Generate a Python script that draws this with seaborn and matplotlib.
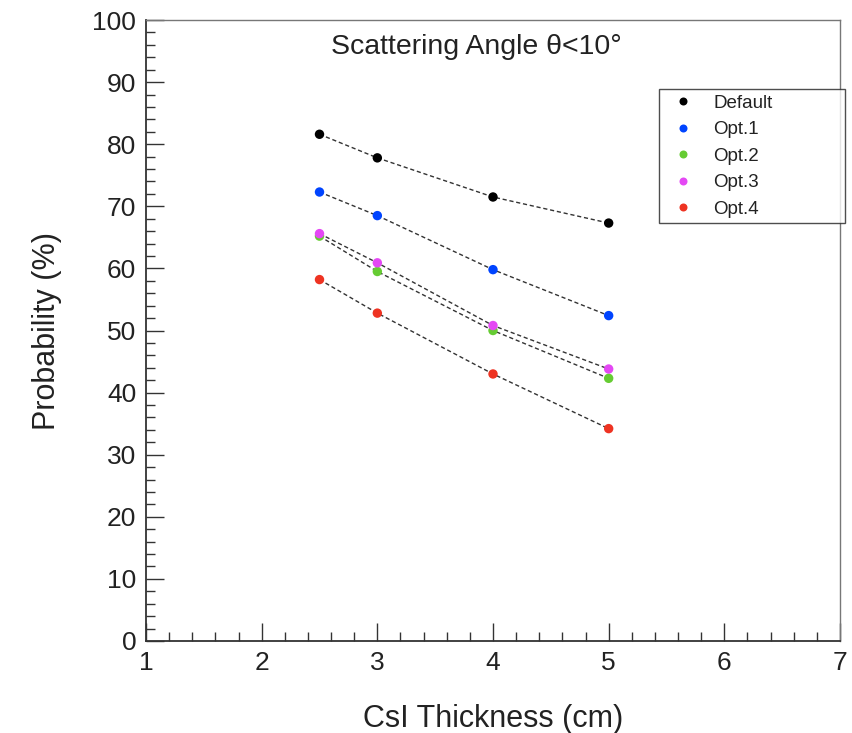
import matplotlib
matplotlib.use("Agg")
import matplotlib.pyplot as plt
from matplotlib.ticker import MultipleLocator
import seaborn as sns
import pandas as pd

# ---- data ----
thickness = [2.5, 3, 4, 5]
default = [81.6, 77.8, 71.5, 67.3]
opt1 = [72.3, 68.5, 59.8, 52.4]
opt2 = [65.2, 59.5, 50.0, 42.3]
opt3 = [65.6, 60.9, 50.8, 43.8]
opt4 = [58.2, 52.8, 43.0, 34.2]
series_names = ["Default", "Opt.1", "Opt.2", "Opt.3", "Opt.4"]
series_colors = ["#000000", "#0044ff", "#66cc33", "#e448f4", "#ee3322"]

rows = []
for name, vals in zip(series_names, [default, opt1, opt2, opt3, opt4]):
    for t, v in zip(thickness, vals):
        rows.append({"thickness": t, "prob": v, "option": name})
df = pd.DataFrame(rows)

sns.set_theme(style="white")
plt.rcParams["font.family"] = ["Liberation Sans", "DejaVu Sans"]

fig = plt.figure(figsize=(8.53, 7.33), dpi=100)
ax = fig.add_axes([146 / 853, 1 - 641 / 733, 694 / 853, 621 / 733])

sns.lineplot(data=df, x="thickness", y="prob", units="option", estimator=None,
             color="#333333", lw=1.0, linestyle=(0, (3, 2)), legend=False, ax=ax,
             sort=True)
sns.scatterplot(data=df, x="thickness", y="prob", hue="option",
                hue_order=series_names, palette=series_colors, s=46,
                edgecolor="none", zorder=3, ax=ax)

ax.set_xlim(1, 7)
ax.set_ylim(0, 100)
ax.xaxis.set_major_locator(MultipleLocator(1))
ax.xaxis.set_minor_locator(MultipleLocator(0.2))
ax.yaxis.set_major_locator(MultipleLocator(10))
ax.yaxis.set_minor_locator(MultipleLocator(2))
ax.tick_params(axis="both", which="both", direction="in", top=False, right=False,
               bottom=True, left=True, color="#333333")
ax.tick_params(axis="both", which="major", length=13, width=1.0, labelsize=19,
               pad=7, labelcolor="#222222")
ax.tick_params(axis="both", which="minor", length=6.5, width=1.0)

for side in ["left", "bottom"]:
    ax.spines[side].set_color("#333333")
    ax.spines[side].set_linewidth(1.3)
for side in ["top", "right"]:
    ax.spines[side].set_color("#777777")
    ax.spines[side].set_linewidth(1.0)

ax.set_xlabel("CsI Thickness (cm)", fontsize=22, labelpad=21, color="#222222")
ax.set_ylabel("Probability (%)", fontsize=22, labelpad=22, color="#222222")

ax.text(0.4755, 0.9565, "Scattering Angle θ<10°", transform=ax.transAxes,
        ha="center", va="center", fontsize=20.5, color="#222222")

leg = ax.legend(loc="upper left", bbox_to_anchor=(0.739, 0.676, 0.268, 0.213),
                mode="expand", frameon=True, fancybox=False, fontsize=13.5,
                labelspacing=0.5, handletextpad=0.6, borderpad=0.3,
                markerscale=0.85, borderaxespad=0)
leg.get_frame().set_edgecolor("#222222")
leg.get_frame().set_linewidth(1.0)
for t in leg.get_texts():
    t.set_color("#222222")

fig.savefig("out.png", dpi=100)
